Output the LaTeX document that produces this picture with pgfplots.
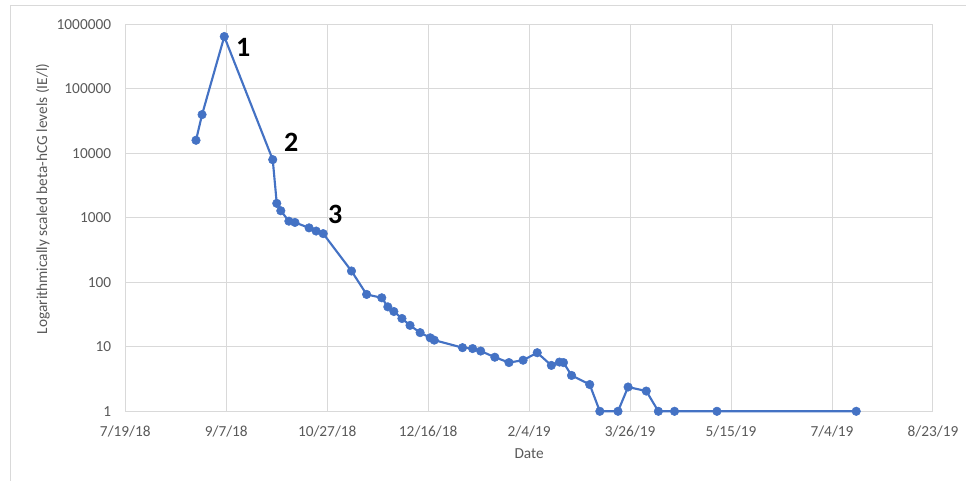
\documentclass[border=0pt]{standalone}
\usepackage{pgfplots}
\pgfplotsset{compat=1.18}
\usepackage{fontspec}
\setmainfont{Carlito}
\definecolor{exblue}{HTML}{4472C4}
\definecolor{gridc}{HTML}{D9D9D9}
\definecolor{txt}{HTML}{595959}
\pgfplotstableread{
day val
35 16000
38 40000
49 650000
73 8000
75 1680
77 1290
81 890
84 850
91 700
94.5 625
98 570
112 150
119.5 65
127 57.6
130 41.7
133 35.3
137 27.5
141 21.5
146 16.6
151 13.8
153 12.7
167 9.7
172 9.4
176 8.6
183 6.9
190 5.7
197 6.2
204 8.1
211 5.15
215 5.8
217 5.7
221 3.6
230 2.6
235 1
244 1
249 2.38
258 2.06
264 1
272 1
293 1
362 1
}\hcg
\begin{document}
\begin{tikzpicture}
\begin{axis}[
  scale only axis, width=606pt, height=290.25pt,
  xmin=0, xmax=400, ymode=log, ymin=1, ymax=1000000,
  xtick={0,50,...,400},
  xticklabels={7/19/18,9/7/18,10/27/18,12/16/18,2/4/19,3/26/19,5/15/19,7/4/19,8/23/19},
  ytick={1,10,100,1000,10000,100000,1000000},
  yticklabels={1,10,100,1000,10000,100000,1000000},
  major tick length=0pt, minor tick length=0pt,
  grid=major,
  grid style={gridc, line width=0.75pt},
  axis line style={gridc, line width=0.75pt},
  clip=false,
  tick label style={font=\fontsize{11.5}{13}\selectfont, text=txt},
  xticklabel style={anchor=base, inner sep=0pt, yshift=-19.1pt},
  yticklabel style={anchor=east, inner sep=0pt, xshift=-10.5pt},
  xlabel={Date},
  xlabel style={font=\fontsize{11.5}{13}\selectfont, text=txt, at={(axis description cs:0.5,-0.1227)}, anchor=base},
  ylabel={Logarithmically scaled beta-hCG levels (IE/l)},
  ylabel style={font=\fontsize{11.5}{13}\selectfont, text=txt, at={(axis description cs:-0.102,0.549)}, anchor=center, rotate=0},
]
\addplot[exblue, line width=1.6pt, mark=*, mark size=3.2pt, mark options={fill=exblue, draw=exblue, line width=0.4pt}] table[x=day, y=val] {\hcg};
\node[font=\fontsize{21}{24}\selectfont\bfseries] at (axis cs:58.4,436000) {1};
\node[font=\fontsize{21}{24}\selectfont\bfseries] at (axis cs:82.1,14600) {2};
\node[font=\fontsize{21}{24}\selectfont\bfseries] at (axis cs:104,1120) {3};
\draw[gridc, line width=0.75pt] (rel axis cs:-0.1428,-0.1796) -- (rel axis cs:-0.1428,1.0496) -- (rel axis cs:1.0403,1.0496);
\coordinate (bbsw) at (rel axis cs:-0.1552,-0.1796);
\coordinate (bbne) at (rel axis cs:1.0403,1.0633);
\end{axis}
\path (bbsw) rectangle (bbne);
\end{tikzpicture}
\end{document}
